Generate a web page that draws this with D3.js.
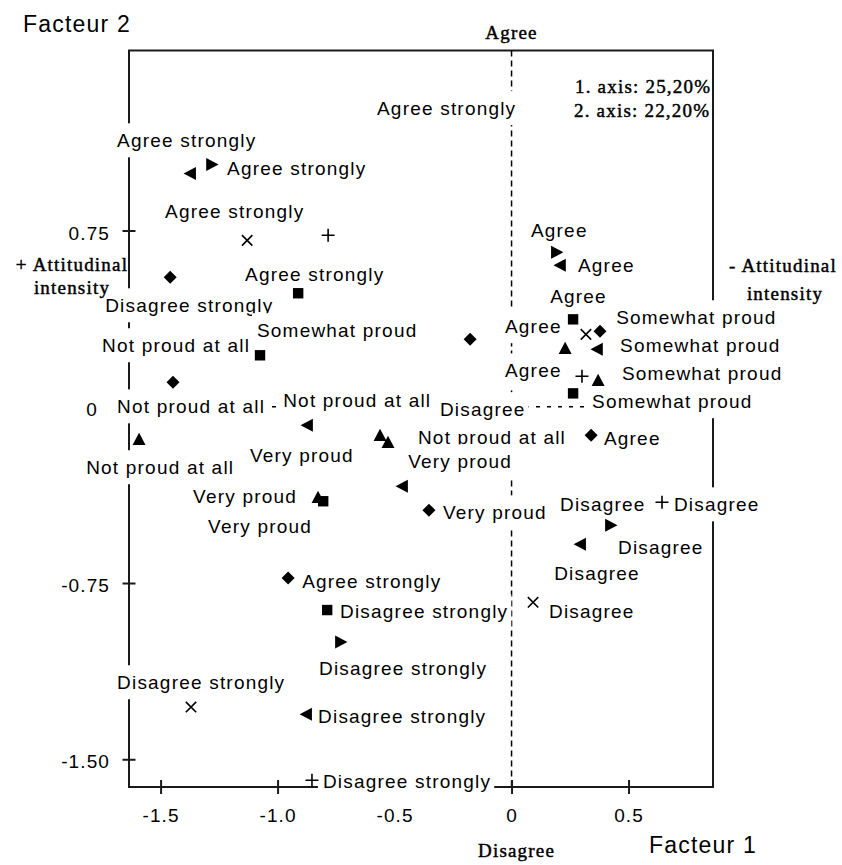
<!DOCTYPE html>
<html>
<head>
<meta charset="utf-8">
<script src="https://cdn.jsdelivr.net/npm/d3@7"></script>
<style>
body { margin: 0; background: #fff; }
svg text { font-family: "Liberation Sans", Arial, sans-serif; fill: #000; }
.lbl { font-size: 19px; letter-spacing: 1.2px; }
.tick text { font-size: 19px; letter-spacing: 1.1px; }
.serif { font-family: "Liberation Serif", "Times New Roman", serif; font-size: 19px; letter-spacing: 1.2px; stroke: #000; stroke-width: 0.45px; }
.title { font-size: 23px; letter-spacing: 1.2px; }
</style>
</head>
<body>
<svg id="svg1" width="842" height="865"></svg>
<script>
var width = 842;
var height = 865;

var plotLeft = 129, plotRight = 713, plotTop = 50.5, plotBottom = 787;

// axis ticks
var xTicks = [-1.5, -1.0, -0.5, 0, 0.5];
var xTickLabels = ['-1.5', '-1.0', '-0.5', '0', '0.5'];
var yTicks = [0.75, 0, -0.75, -1.5];
var yTickLabels = ['0.75', '0', '-0.75', '-1.50'];

// category points (facteur 1, facteur 2), one array per marker type
var diamondPts = [[-1.459, 0.551], [-1.447, 0.104], [-0.353, -0.440], [-0.955, -0.729],
                  [-0.177, 0.287], [0.378, 0.321], [0.340, -0.121]];
var squarePts = [[-0.912, 0.483], [-1.075, 0.219], [-0.805, -0.402], [-0.788, -0.865],
                 [0.263, 0.372], [0.263, 0.057]];
var triUpPts = [[-1.592, -0.138], [-0.562, -0.121], [-0.528, -0.151], [-0.827, -0.385],
                [0.229, 0.249], [0.370, 0.113]];
var triLeftPts = [[-1.374, 0.993], [-0.874, -0.079], [-0.468, -0.338], [-0.878, -1.308],
                  [0.207, 0.602], [0.365, 0.245], [0.293, -0.585]];
var triRightPts = [[-1.280, 1.031], [-0.729, -1.001], [0.194, 0.657], [0.425, -0.504]];
var timesPts = [[-1.130, 0.708], [-1.370, -1.278], [0.318, 0.308], [0.092, -0.832]];
var plusPts = [[-0.784, 0.730], [-0.853, -1.589], [0.301, 0.130], [0.643, -0.406]];

// category labels, anchored (start, baseline) in factor units
var labelText = ['Agree strongly', 'Agree strongly', 'Agree strongly', 'Agree strongly', 'Agree strongly',
    'Disagree strongly', 'Somewhat proud', 'Not proud at all', 'Not proud at all', 'Not proud at all',
    'Very proud', 'Not proud at all', 'Very proud', 'Very proud', 'Agree strongly',
    'Disagree strongly', 'Disagree strongly', 'Disagree strongly', 'Disagree strongly', 'Disagree strongly',
    'Agree', 'Agree', 'Agree', 'Agree', 'Somewhat proud',
    'Somewhat proud', 'Agree', 'Somewhat proud', 'Somewhat proud', 'Disagree',
    'Not proud at all', 'Agree', 'Very proud', 'Disagree', 'Disagree',
    'Very proud', 'Disagree', 'Disagree', 'Disagree'];
var labelF1 = [-1.686, -1.216, -1.481, -1.139, -0.575,
    -1.737, -1.088, -1.750, -1.686, -0.976,
    -1.118, -1.818, -1.361, -1.297, -0.895,
    -0.733, -0.823, -1.686, -0.827, -0.806,
    0.083, 0.284, 0.165, -0.028, 0.447,
    0.464, -0.028, 0.472, 0.344, -0.306,
    -0.400, 0.395, -0.442, 0.207, 0.694,
    -0.293, 0.455, 0.182, 0.160];
var labelF2 = [1.104, 0.985, 0.802, 0.534, 1.241,
    0.402, 0.296, 0.232, -0.028, -0.002,
    -0.236, -0.287, -0.410, -0.538, -0.772,
    -0.900, -1.142, -1.202, -1.346, -1.624,
    0.721, 0.572, 0.440, 0.313, 0.351,
    0.232, 0.125, 0.113, -0.006, -0.040,
    -0.160, -0.164, -0.262, -0.445, -0.445,
    -0.479, -0.627, -0.738, -0.900];

var svg = d3.select('#svg1');

var x = d3.scaleLinear().domain([-1.635, 0.861]).range([plotLeft, plotRight]);
var y = d3.scaleLinear().domain([-1.618, 1.516]).range([plotBottom, plotTop]);

// frame
svg.append('rect')
    .attr('x', plotLeft)
    .attr('y', plotTop)
    .attr('width', plotRight - plotLeft)
    .attr('height', plotBottom - plotTop)
    .attr('fill', 'none')
    .attr('stroke', '#1a1a1a')
    .attr('stroke-width', 2);

// dashed zero lines
svg.append('line')
    .attr('x1', x(0)).attr('x2', x(0))
    .attr('y1', plotTop).attr('y2', plotBottom)
    .attr('stroke', '#000')
    .attr('stroke-width', 1.5)
    .attr('stroke-dasharray', '6,4');
svg.append('line')
    .attr('x1', plotLeft).attr('x2', plotRight)
    .attr('y1', y(0)).attr('y2', y(0))
    .attr('stroke', '#000')
    .attr('stroke-width', 1.5)
    .attr('stroke-dasharray', '4,7');

// axes
var xAxis = svg.append('g')
    .attr('transform', 'translate(0,' + plotBottom + ')')
    .call(d3.axisBottom(x).tickValues(xTicks).tickSize(7)
        .tickFormat(function(d){ return xTickLabels[xTicks.indexOf(d)]; }));
xAxis.select('.domain').remove();
xAxis.attr('font-size', null).attr('font-family', null);
xAxis.selectAll('.tick line').attr('y1', -7).attr('y2', 7).attr('stroke', '#1a1a1a').attr('stroke-width', 2);
xAxis.selectAll('.tick text').attr('y', 35).attr('dy', null);

var yAxis = svg.append('g')
    .attr('transform', 'translate(' + plotLeft + ',0)')
    .call(d3.axisLeft(y).tickValues(yTicks).tickSize(7)
        .tickFormat(function(d){ return yTickLabels[yTicks.indexOf(d)]; }));
yAxis.select('.domain').remove();
yAxis.attr('font-size', null).attr('font-family', null);
yAxis.selectAll('.tick line').attr('x1', -6.5).attr('x2', 6.5).attr('stroke', '#1a1a1a').attr('stroke-width', 2);
yAxis.selectAll('.tick text')
    .attr('x', function(d){ return d === 0 ? -31 : -19; })
    .attr('dy', null)
    .attr('y', 8.5);

// category labels with white boxes
var labels = svg.append('g');
labelText.forEach(function(t, i){
    var g = labels.append('g');
    var rect = g.append('rect').attr('fill', '#fff');
    var txt = g.append('text')
        .attr('class', 'lbl')
        .attr('x', x(labelF1[i]))
        .attr('y', y(labelF2[i]))
        .text(t);
    var bb = txt.node().getBBox();
    rect.attr('x', bb.x - 5)
        .attr('y', y(labelF2[i]) - 24)
        .attr('width', bb.width + 8)
        .attr('height', 34);
});

// marker shapes
function poly(points){
    return { draw: function(ctx, size){
        var r = Math.sqrt(size) / 2;
        ctx.moveTo(points[0][0] * r, points[0][1] * r);
        for (var k = 1; k < points.length; k++) ctx.lineTo(points[k][0] * r, points[k][1] * r);
        ctx.closePath();
    }};
}
var diamondType = poly([[0, -1], [1, 0], [0, 1], [-1, 0]]);
var squareType = poly([[-0.8, -0.8], [0.8, -0.8], [0.8, 0.8], [-0.8, 0.8]]);
var triUpType = poly([[0, -1], [1, 0.9], [-1, 0.9]]);
var triLeftType = poly([[-1, 0], [0.9, -1], [0.9, 1]]);
var triRightType = poly([[1, 0], [-0.9, -1], [-0.9, 1]]);
var timesType = { draw: function(ctx, size){
    var r = Math.sqrt(size) / 2 * 0.8;
    ctx.moveTo(-r, -r); ctx.lineTo(r, r);
    ctx.moveTo(r, -r); ctx.lineTo(-r, r);
}};
var plusType = { draw: function(ctx, size){
    var r = Math.sqrt(size) / 2;
    ctx.moveTo(-r, 0); ctx.lineTo(r, 0);
    ctx.moveTo(0, -r); ctx.lineTo(0, r);
}};

var markerSets = [
    {pts: diamondPts, type: diamondType, filled: true},
    {pts: squarePts, type: squareType, filled: true},
    {pts: triUpPts, type: triUpType, filled: true},
    {pts: triLeftPts, type: triLeftType, filled: true},
    {pts: triRightPts, type: triRightType, filled: true},
    {pts: timesPts, type: timesType, filled: false},
    {pts: plusPts, type: plusType, filled: false}
];

markerSets.forEach(function(s){
    svg.append('g').selectAll('path')
        .data(s.pts)
        .enter()
        .append('path')
        .attr('transform', function(d){ return 'translate(' + x(d[0]) + ',' + y(d[1]) + ')'; })
        .attr('d', d3.symbol().type(s.type).size(169))
        .attr('fill', s.filled ? '#000' : 'none')
        .attr('stroke', s.filled ? 'none' : '#000')
        .attr('stroke-width', s.filled ? 0 : 1.6);
});

// axis annotations
svg.append('text').attr('class', 'title').attr('x', 23).attr('y', 32).text('Facteur 2');
svg.append('text').attr('class', 'title').attr('x', 649).attr('y', 853).text('Facteur 1');

svg.append('text').attr('class', 'serif').attr('x', x(0)).attr('y', 39)
    .attr('text-anchor', 'middle').text('Agree');
svg.append('text').attr('class', 'serif').attr('x', x(0) + 5).attr('y', 857)
    .attr('text-anchor', 'middle').text('Disagree');

svg.append('text').attr('class', 'serif').attr('x', 72).attr('y', 271)
    .attr('text-anchor', 'middle').text('+ Attitudinal');
svg.append('text').attr('class', 'serif').attr('x', 72).attr('y', 294)
    .attr('text-anchor', 'middle').text('intensity');
svg.append('text').attr('class', 'serif').attr('x', 783).attr('y', 272)
    .attr('text-anchor', 'middle').text('- Attitudinal');
svg.append('text').attr('class', 'serif').attr('x', 785).attr('y', 300)
    .attr('text-anchor', 'middle').text('intensity');

svg.append('text').attr('class', 'serif').attr('x', 575).attr('y', 93).text('1. axis: 25,20%');
svg.append('text').attr('class', 'serif').attr('x', 574).attr('y', 117).text('2. axis: 22,20%');
</script>
</body>
</html>
